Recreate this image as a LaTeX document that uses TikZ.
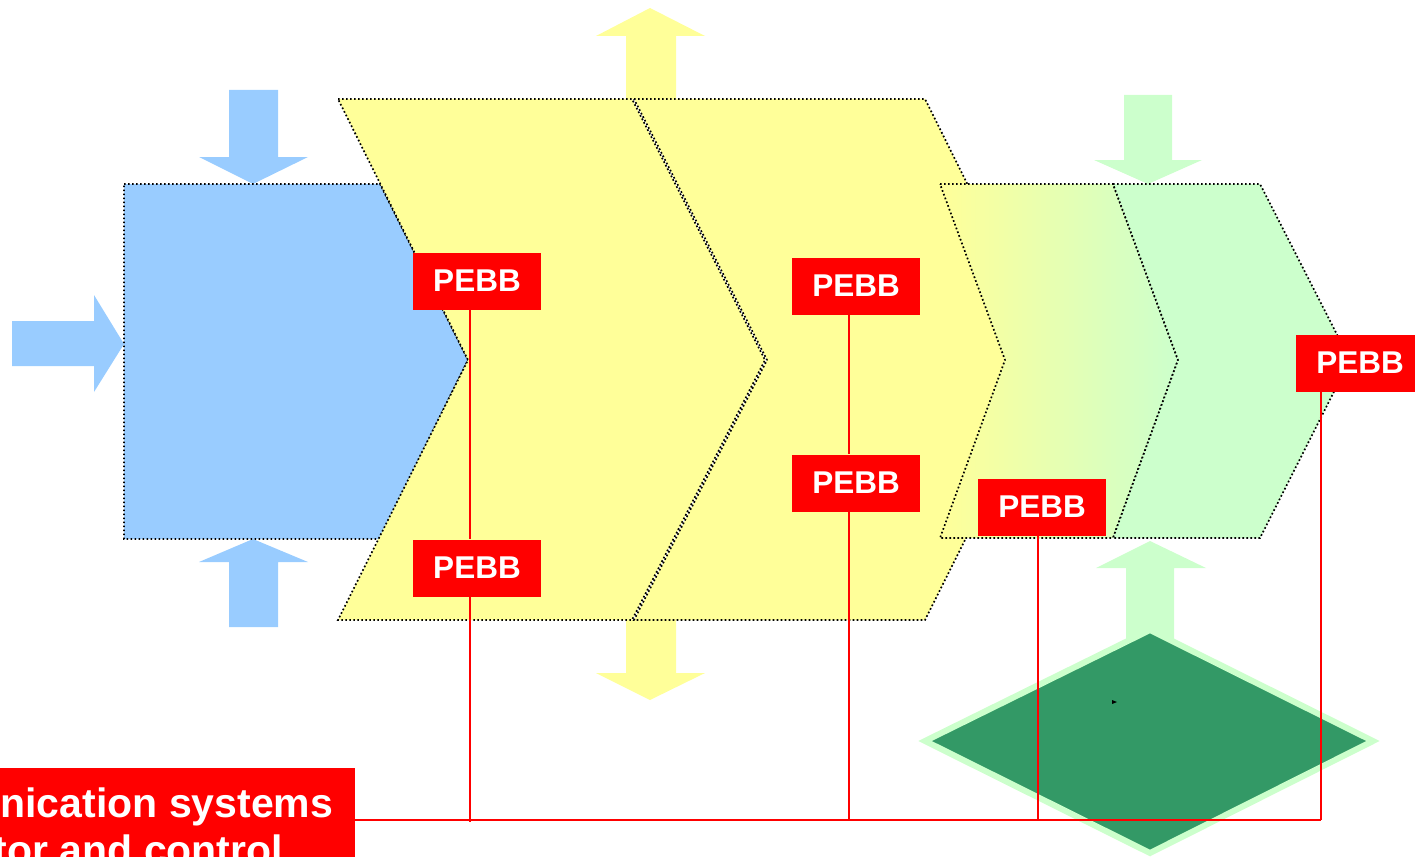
\documentclass[tikz,border=0pt]{standalone}
\usepackage{fontspec}
\setmainfont{Liberation Sans}
\definecolor{skyblue}{HTML}{99CCFF}
\definecolor{paleyellow}{HTML}{FFFF99}
\definecolor{palegreen}{HTML}{CCFFCC}
\definecolor{seagreen}{HTML}{339966}
\definecolor{pebbred}{HTML}{FF0000}
\begin{document}
\begin{tikzpicture}[x=1pt,y=-1pt,
  outline/.style={draw=black, line width=1.7pt, dash pattern=on 1.7pt off 2.3pt},
  pebb/.style={fill=pebbred, text=white, font=\fontsize{31.5}{36}\selectfont\bfseries,
    minimum width=128pt, minimum height=57pt, inner sep=0pt},
  wire/.style={draw=pebbred, line width=2pt},
  commbox/.style={fill=pebbred, text=white, font=\fontsize{41}{47}\selectfont\bfseries,
    align=center, inner xsep=22pt, inner ysep=20pt}]
\useasboundingbox (0,0) rectangle (1415,856);
\clip (0,0) rectangle (1415,856);

% input arrows of the first stage
\fill[skyblue] (12,321) -- (94,321) -- (94,295) -- (124,344) -- (94,392) -- (94,366) -- (12,366) -- cycle;
\fill[skyblue] (229,90) -- (278,90) -- (278,157) -- (308,157) -- (253,184) -- (199,157) -- (229,157) -- cycle;
\fill[skyblue] (229,627) -- (278,627) -- (278,562) -- (308,562) -- (253,539) -- (199,562) -- (229,562) -- cycle;

% arrows of the middle stages
\fill[paleyellow] (626,99) -- (676,99) -- (676,36) -- (705,36) -- (650,8) -- (596,36) -- (626,36) -- cycle;
\fill[paleyellow] (626,620) -- (676,620) -- (676,673) -- (705,673) -- (650,700) -- (596,673) -- (626,673) -- cycle;

% first stage
\draw[outline, fill=skyblue] (124,184) -- (380,184) -- (468,360) -- (380,539) -- (124,539) -- cycle;

% middle stages
\draw[outline, fill=paleyellow] (338,99) -- (632,99) -- (765,360) -- (632,620) -- (338,620) -- (468,360) -- cycle;
\draw[outline, fill=paleyellow] (634,99) -- (925,99) -- (1055,360) -- (925,620) -- (634,620) -- (767,360) -- cycle;

% arrows of the last stages
\fill[palegreen] (1124,95) -- (1172,95) -- (1172,160) -- (1202,160) -- (1148,184) -- (1094,160) -- (1124,160) -- cycle;
\fill[palegreen] (1126,645) -- (1174,645) -- (1174,568) -- (1206,568) -- (1150,541) -- (1096,568) -- (1126,568) -- cycle;

% last stages
\path[left color=paleyellow, right color=palegreen] (940,184) -- (1113,184) -- (1178,360) -- (1113,538) -- (940,538) -- (1005,360) -- cycle;
\draw[outline] (940,184) -- (1113,184) -- (1178,360) -- (1113,538) -- (940,538) -- (1005,360) -- cycle;
\draw[outline, fill=palegreen] (1113,184) -- (1260,184) -- (1350,360) -- (1260,538) -- (1113,538) -- (1178,360) -- cycle;

% supervisory block
\draw[draw=palegreen, line width=6pt, fill=seagreen, line join=miter] (1150,630) -- (1373,741) -- (1150,853) -- (925,741) -- cycle;
\fill[black] (1112,700) -- (1117,702) -- (1112,704) -- cycle;

% building blocks
\node[pebb] (p1) at (477,281) {PEBB};
\node[pebb] (p2) at (477,568) {PEBB};
\node[pebb] (p3) at (856,286) {PEBB};
\node[pebb] (p4) at (856,483) {PEBB};
\node[pebb] (p5) at (1042,507) {PEBB};
\node[pebb] (p6) at (1360,363) {PEBB};

% communication bus
\node[commbox, anchor=north] (comm) at (90.5,768) {Communication systems\\Monitor and control};
\coordinate (b1) at (470,822);
\coordinate (b3) at (849,820);
\coordinate (b5) at (1038,820);
\coordinate (b6) at (1321,820);
\draw[wire] (b1 |- p1.south) -- (b1 |- p2.north);
\draw[wire] (b1 |- p2.south) -- (b1);
\draw[wire] (b3 |- p3.south) -- (b3 |- p4.north);
\draw[wire] (b3 |- p4.south) -- (b3);
\draw[wire] (b5 |- p5.south) -- (b5);
\draw[wire] (b6 |- p6.south) -- (b6);
\draw[wire] (comm.east |- b6) -- (b6);
\end{tikzpicture}
\end{document}
